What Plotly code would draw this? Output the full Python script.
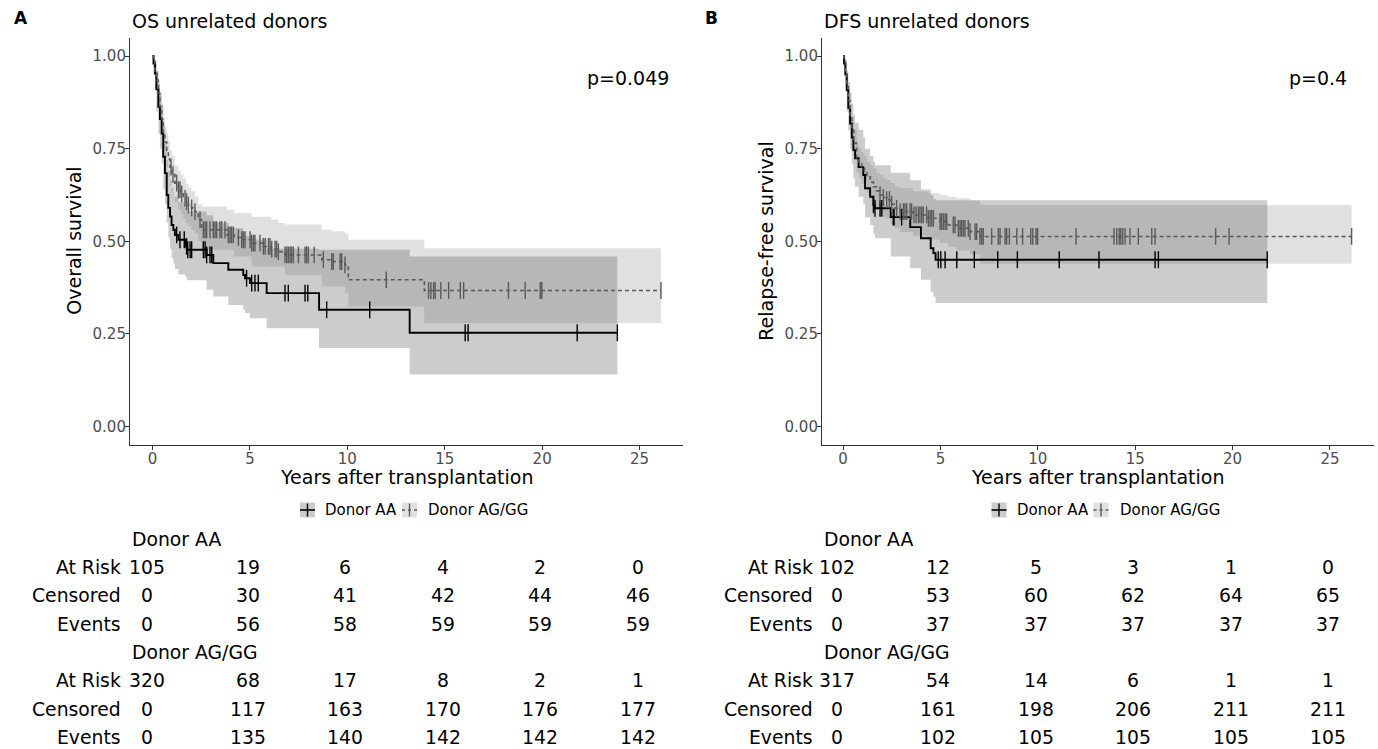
import numpy as np
import plotly.graph_objects as go

# ---------------- DATA ----------------
# Panel A: OS unrelated donors
os_aa_t = [0, 0.05, 0.13, 0.2, 0.3, 0.38, 0.47, 0.55, 0.64, 0.73, 0.81, 0.9, 0.98, 1.07, 1.15, 1.33, 1.67, 1.76,
           2.78, 3.12, 3.89, 4.66, 4.75, 5.0, 5.86, 8.55, 13.2, 23.86]
os_aa_s = [1.0, 0.98, 0.953, 0.91, 0.863, 0.83, 0.791, 0.728, 0.684, 0.625, 0.59, 0.567, 0.544, 0.531, 0.517, 0.504,
           0.486, 0.477, 0.463, 0.441, 0.423, 0.409, 0.40, 0.387, 0.36, 0.315, 0.253, 0.253]
os_aa_lo = [1.0, 0.95, 0.91, 0.85, 0.79, 0.75, 0.71, 0.64, 0.6, 0.55, 0.51, 0.48, 0.455, 0.44, 0.425, 0.41, 0.405,
            0.395, 0.369, 0.351, 0.328, 0.315, 0.306, 0.292, 0.265, 0.212, 0.14, 0.14]
os_aa_hi = [1.0, 1.0, 0.99, 0.96, 0.925, 0.9, 0.87, 0.81, 0.77, 0.72, 0.69, 0.665, 0.645, 0.63, 0.62, 0.605, 0.59,
            0.58, 0.57, 0.55, 0.535, 0.525, 0.515, 0.505, 0.48, 0.477, 0.459, 0.459]
os_aa_cens = [1.24, 1.41, 1.63, 1.75, 1.81, 1.93, 2.01, 2.61, 2.7, 2.78, 2.95, 3.04, 4.83, 5.09, 5.26, 5.43, 6.8,
              6.97, 7.83, 7.97, 8.94, 11.15, 16.05, 16.2, 21.8, 23.86]

os_ag_t = [0, 0.05, 0.13, 0.21, 0.3, 0.38, 0.47, 0.55, 0.64, 0.73, 0.81, 0.9, 1.0, 1.15, 1.33, 1.45, 1.58, 1.72,
           1.84, 2.0, 2.18, 2.35, 2.52, 3.81, 4.2, 4.58, 5.09, 5.69, 6.1, 6.46, 6.8, 8.69, 9.2, 9.88, 10.05, 13.95, 26.1]
os_ag_s = [1.0, 0.985, 0.96, 0.935, 0.9, 0.863, 0.83, 0.791, 0.768, 0.746, 0.722, 0.70, 0.68, 0.657, 0.639, 0.628,
           0.616, 0.607, 0.598, 0.59, 0.58, 0.558, 0.531, 0.517, 0.51, 0.504, 0.495, 0.486, 0.479, 0.472, 0.463,
           0.45, 0.445, 0.436, 0.396, 0.367, 0.367]
os_ag_lo = [1.0, 0.97, 0.94, 0.91, 0.87, 0.83, 0.79, 0.75, 0.725, 0.70, 0.675, 0.65, 0.63, 0.605, 0.585, 0.575,
            0.56, 0.55, 0.54, 0.53, 0.52, 0.50, 0.477, 0.477, 0.459, 0.459, 0.432, 0.432, 0.432, 0.432, 0.409,
            0.378, 0.378, 0.36, 0.324, 0.279, 0.279]
os_ag_hi = [1.0, 0.998, 0.98, 0.96, 0.93, 0.895, 0.865, 0.83, 0.81, 0.79, 0.77, 0.745, 0.73, 0.705, 0.69, 0.68,
            0.67, 0.655, 0.645, 0.635, 0.62, 0.60, 0.594, 0.585, 0.576, 0.576, 0.566, 0.566, 0.558, 0.549, 0.545,
            0.531, 0.527, 0.52, 0.504, 0.481, 0.481]
os_ag_cens = [0.95, 1.05, 1.24, 1.33, 1.41, 1.5, 1.67, 1.75, 1.84, 2.01, 2.18, 2.44, 2.61, 2.7, 2.78, 2.95, 3.12,
              3.21, 3.29, 3.46, 3.55, 3.72, 3.89, 3.98, 4.06, 4.15, 4.41, 4.58, 4.66, 4.75, 5.01, 5.09, 5.18,
              5.26, 5.52, 5.69, 5.78, 5.95, 6.03, 6.12, 6.29, 6.37, 6.46, 6.8, 6.89, 6.97, 7.06, 7.14, 7.23,
              7.49, 7.83, 7.91, 8.0, 8.3, 8.77, 9.2, 9.28, 9.63, 9.71, 9.88, 12.0, 14.17, 14.29, 14.43, 14.51,
              14.8, 15.2, 15.8, 15.97, 18.27, 19.13, 19.9, 19.98, 26.1]

# Panel B: DFS unrelated donors
dfs_aa_t = [0, 0.05, 0.12, 0.19, 0.27, 0.36, 0.45, 0.53, 0.62, 0.8, 1.04, 1.13, 1.39, 1.56, 1.64, 2.45, 3.45, 4.0,
            4.5, 4.64, 4.75, 21.78]
dfs_aa_s = [1.0, 0.98, 0.95, 0.908, 0.86, 0.818, 0.78, 0.746, 0.724, 0.70, 0.679, 0.643, 0.62, 0.598, 0.589, 0.565,
            0.538, 0.508, 0.481, 0.468, 0.45, 0.45]
dfs_aa_lo = [1.0, 0.95, 0.91, 0.85, 0.80, 0.75, 0.71, 0.67, 0.647, 0.62, 0.60, 0.565, 0.544, 0.52, 0.508, 0.459,
             0.427, 0.396, 0.364, 0.35, 0.333, 0.333]
dfs_aa_hi = [1.0, 1.0, 0.99, 0.96, 0.93, 0.9, 0.87, 0.84, 0.82, 0.80, 0.78, 0.75, 0.73, 0.715, 0.705, 0.685, 0.665,
             0.64, 0.625, 0.615, 0.611, 0.611]
dfs_aa_cens = [1.56, 1.64, 1.9, 1.99, 2.58, 2.62, 3.01, 4.89, 5.02, 5.24, 5.84, 6.74, 7.94, 8.95, 11.1, 13.14,
               16.02, 16.19, 21.78]

dfs_ag_t = [0, 0.05, 0.12, 0.19, 0.27, 0.36, 0.45, 0.55, 0.7, 0.82, 0.96, 1.1, 1.22, 1.4, 1.56, 1.72, 1.9, 2.05,
            2.24, 2.45, 2.67, 2.93, 3.6, 4.3, 4.98, 5.4, 5.84, 6.52, 7.03, 26.11]
dfs_ag_s = [1.0, 0.985, 0.96, 0.925, 0.88, 0.84, 0.8, 0.765, 0.72, 0.71, 0.697, 0.685, 0.674, 0.66, 0.647, 0.636,
            0.625, 0.618, 0.612, 0.60, 0.589, 0.58, 0.571, 0.562, 0.553, 0.544, 0.535, 0.526, 0.513, 0.513]
dfs_ag_lo = [1.0, 0.97, 0.94, 0.9, 0.85, 0.81, 0.77, 0.73, 0.685, 0.67, 0.655, 0.64, 0.63, 0.615, 0.6, 0.59, 0.575,
             0.565, 0.56, 0.545, 0.535, 0.525, 0.515, 0.505, 0.495, 0.485, 0.475, 0.465, 0.439, 0.439]
dfs_ag_hi = [1.0, 0.998, 0.98, 0.95, 0.91, 0.87, 0.835, 0.8, 0.76, 0.75, 0.74, 0.73, 0.715, 0.705, 0.697, 0.685,
             0.679, 0.67, 0.665, 0.657, 0.648, 0.643, 0.635, 0.63, 0.625, 0.62, 0.616, 0.61, 0.598, 0.598]
dfs_ag_cens = [1.9, 2.07, 2.24, 2.38, 2.5, 2.75, 2.93, 3.1, 3.18, 3.27, 3.44, 3.52, 3.64, 3.75, 3.87, 3.95, 4.04,
               4.12, 4.29, 4.38, 4.47, 4.55, 4.64, 4.98, 5.06, 5.15, 5.24, 5.32, 5.66, 5.75, 5.92, 6.01, 6.09,
               6.18, 6.26, 6.43, 6.52, 6.78, 6.86, 7.03, 7.12, 7.2, 7.63, 7.97, 8.06, 8.32, 8.4, 8.54, 8.92, 9.22,
               9.64, 9.74, 9.91, 9.99, 11.96, 13.91, 14.05, 14.18, 14.26, 14.36, 14.48, 14.73, 15.16, 15.85,
               16.02, 19.13, 19.82, 26.11]

table_times = [0, 5, 10, 15, 20, 25]
row_labels = ["At Risk", "Censored", "Events"]
groups = ["Donor AA", "Donor AG/GG"]
os_table_aa = [[105, 19, 6, 4, 2, 0], [0, 30, 41, 42, 44, 46], [0, 56, 58, 59, 59, 59]]
os_table_ag = [[320, 68, 17, 8, 2, 1], [0, 117, 163, 170, 176, 177], [0, 135, 140, 142, 142, 142]]
dfs_table_aa = [[102, 12, 5, 3, 1, 0], [0, 53, 60, 62, 64, 65], [0, 37, 37, 37, 37, 37]]
dfs_table_ag = [[317, 54, 14, 6, 1, 1], [0, 161, 198, 206, 211, 211], [0, 102, 105, 105, 105, 105]]

panel_titles = ["OS unrelated donors", "DFS unrelated donors"]
panel_letters = ["A", "B"]
y_titles = ["Overall survival", "Relapse-free survival"]
p_values = ["p=0.049", "p=0.4"]
x_title = "Years after transplantation"

# ---------------- STYLE ----------------
W, H = 1378, 749
FONT = "DejaVu Sans"
AA_COL = "#000000"
AG_COL = "#5a5a5a"
AA_FILL = "rgba(0,0,0,0.2)"
AG_FILL = "rgba(102,102,102,0.2)"
TAB_FS = 18.8


def px(x):
    return x / W


def py(y):
    return 1 - y / H


def surv_at(times, surv, tc):
    t = np.asarray(times)
    s = np.asarray(surv)
    idx = np.searchsorted(t, np.asarray(tc), side="right") - 1
    return s[idx]


panels = [
    dict(aa=(os_aa_t, os_aa_s, os_aa_lo, os_aa_hi, os_aa_cens),
         ag=(os_ag_t, os_ag_s, os_ag_lo, os_ag_hi, os_ag_cens),
         tab=(os_table_aa, os_table_ag),
         left=130, right=683, xr=[-1.155, 27.23]),
    dict(aa=(dfs_aa_t, dfs_aa_s, dfs_aa_lo, dfs_aa_hi, dfs_aa_cens),
         ag=(dfs_ag_t, dfs_ag_s, dfs_ag_lo, dfs_ag_hi, dfs_ag_cens),
         tab=(dfs_table_aa, dfs_table_ag),
         left=822, right=1374, xr=[-1.08, 27.26]),
]

fig = go.Figure()
annotations = []
shapes = []
PLOT_TOP, PLOT_BOT = 37.5, 445

for i, p in enumerate(panels):
    xa = "x" if i == 0 else "x2"
    ya = "y" if i == 0 else "y2"
    # confidence bands
    for grp, fill in (("aa", AA_FILL), ("ag", AG_FILL)):
        t, s, lo, hi, c = p[grp]
        fig.add_trace(go.Scatter(x=t, y=lo, mode="lines", line=dict(width=0, shape="hv"),
                                 xaxis=xa, yaxis=ya, hoverinfo="skip", showlegend=False))
        fig.add_trace(go.Scatter(x=t, y=hi, mode="lines", line=dict(width=0, shape="hv"),
                                 fill="tonexty", fillcolor=fill,
                                 xaxis=xa, yaxis=ya, hoverinfo="skip", showlegend=False))
    # survival curves + censor ticks
    for grp, col, dash, w in (("aa", AA_COL, "solid", 1.9), ("ag", AG_COL, "4px,3px", 1.6)):
        t, s, lo, hi, c = p[grp]
        fig.add_trace(go.Scatter(x=t, y=s, mode="lines", line=dict(color=col, width=w, dash=dash, shape="hv"),
                                 xaxis=xa, yaxis=ya, showlegend=False))
        fig.add_trace(go.Scatter(x=c, y=surv_at(t, s, c), mode="markers",
                                 marker=dict(symbol="line-ns", size=12, line=dict(width=1.4, color=col)),
                                 xaxis=xa, yaxis=ya, showlegend=False))

    cx = (p["left"] + p["right"]) / 2
    # panel letter + title
    annotations.append(dict(text="<b>%s</b>" % panel_letters[i], x=px(12 if i == 0 else 703), y=py(18),
                            xref="paper", yref="paper", xanchor="left", yanchor="middle", showarrow=False,
                            font=dict(size=17, color="black", family=FONT)))
    annotations.append(dict(text=panel_titles[i], x=px(p["left"]), y=py(21), xref="paper", yref="paper",
                            xanchor="left", yanchor="middle", showarrow=False,
                            font=dict(size=19, color="black", family=FONT)))
    # p-value
    annotations.append(dict(text=p_values[i], x=24.4, y=0.94, xref=xa, yref=ya, xanchor="center",
                            yanchor="middle", showarrow=False, font=dict(size=19, color="black", family=FONT)))
    # axis titles
    annotations.append(dict(text=x_title, x=px(cx), y=py(476.5), xref="paper", yref="paper",
                            xanchor="center", yanchor="middle", showarrow=False,
                            font=dict(size=19, color="black", family=FONT)))
    annotations.append(dict(text=y_titles[i], x=px(p["left"] - 55.5), y=py((PLOT_TOP + PLOT_BOT) / 2),
                            xref="paper", yref="paper", textangle=-90, xanchor="center", yanchor="middle",
                            showarrow=False, font=dict(size=19, color="black", family=FONT)))
    # legend (drawn ggplot-style)
    off = cx - 406.5
    leg_y = 510
    for k, (kx, tx, lab, col, fill, dash) in enumerate((
            (307.5, 323, groups[0], AA_COL, "rgba(204,204,204,1)", "solid"),
            (409.5, 426, groups[1], AG_COL, "rgba(224,224,224,1)", "dot"))):
        kx += off
        tx += off
        shapes.append(dict(type="rect", xref="paper", yref="paper", x0=px(kx - 7.5), x1=px(kx + 7.5),
                           y0=py(leg_y + 7.5), y1=py(leg_y - 7.5), fillcolor=fill, line=dict(width=0)))
        shapes.append(dict(type="line", xref="paper", yref="paper", x0=px(kx - 7.5), x1=px(kx + 7.5),
                           y0=py(leg_y), y1=py(leg_y), line=dict(color=col, width=1.6, dash=dash)))
        shapes.append(dict(type="line", xref="paper", yref="paper", x0=px(kx), x1=px(kx),
                           y0=py(leg_y - 6.5), y1=py(leg_y + 6.5), line=dict(color=col, width=1.4)))
        annotations.append(dict(text=lab, x=px(tx), y=py(leg_y), xref="paper", yref="paper",
                                xanchor="left", yanchor="middle", showarrow=False,
                                font=dict(size=15, color="black", family=FONT)))
    # risk tables
    row_y = 539
    pitch = 28.4
    for g, tab in enumerate(p["tab"]):
        annotations.append(dict(text=groups[g], x=px(p["left"]), y=py(row_y), xref="paper", yref="paper",
                                xanchor="left", yanchor="middle", showarrow=False,
                                font=dict(size=TAB_FS, color="black", family=FONT)))
        row_y += pitch
        for r, lab in enumerate(row_labels):
            annotations.append(dict(text=lab, x=px(p["left"] - 7), y=py(row_y), xref="paper", yref="paper",
                                    xanchor="right", yanchor="middle", showarrow=False,
                                    font=dict(size=TAB_FS, color="black", family=FONT)))
            for j, (tt, v) in enumerate(zip(table_times, tab[r])):
                annotations.append(dict(text=str(v), x=tt, y=py(row_y), xref=xa, yref="paper",
                                        xanchor="center", yanchor="middle", showarrow=False,
                                        xshift=-6 if j == 0 else -2,
                                        font=dict(size=TAB_FS, color="black", family=FONT)))
            row_y += pitch

axis_common = dict(showgrid=False, zeroline=False, showline=True, linecolor="#333333", linewidth=1.1,
                   ticks="outside", ticklen=4, tickcolor="#333333", tickwidth=1.1, ticklabelstandoff=-4,
                   tickfont=dict(size=15, color="#4d4d4d", family=FONT))
ydom = [py(PLOT_BOT), py(PLOT_TOP)]
fig.update_layout(
    width=W, height=H, margin=dict(l=0, r=0, t=0, b=0),
    paper_bgcolor="white", plot_bgcolor="white", showlegend=False,
    xaxis=dict(domain=[px(130), px(683)], range=panels[0]["xr"], tickvals=table_times, anchor="y",
               **axis_common),
    yaxis=dict(domain=ydom, range=[-0.05, 1.05], tickvals=[0, 0.25, 0.5, 0.75, 1.0],
               ticktext=["0.00", "0.25", "0.50", "0.75", "1.00"], anchor="x", **axis_common),
    xaxis2=dict(domain=[px(822), px(1374)], range=panels[1]["xr"], tickvals=table_times, anchor="y2",
                **axis_common),
    yaxis2=dict(domain=ydom, range=[-0.05, 1.05], tickvals=[0, 0.25, 0.5, 0.75, 1.0],
                ticktext=["0.00", "0.25", "0.50", "0.75", "1.00"], anchor="x2", **axis_common),
    annotations=annotations, shapes=shapes,
)

fig.write_html("out.html", config={"displayModeBar": False},
               post_script="document.body.style.margin='0';document.body.style.overflow='hidden';"
                           "window.dispatchEvent(new Event('resize'));")
